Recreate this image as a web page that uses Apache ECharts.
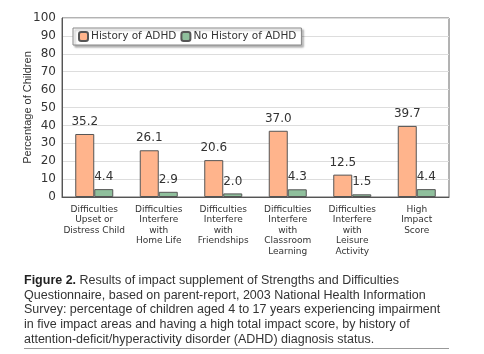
<!DOCTYPE html>
<html>
<head>
<meta charset="utf-8">
<script src="https://cdn.jsdelivr.net/npm/echarts@6/dist/echarts.min.js"></script>
<style>
  html, body { margin: 0; padding: 0; background: #fff; }
  #chart { width: 484px; height: 354px; }
</style>
</head>
<body>
<div id="chart"></div>
<script>
var categories = [
  'Difficulties\nUpset or\nDistress Child',
  'Difficulties\nInterfere\nwith\nHome Life',
  'Difficulties\nInterfere\nwith\nFriendships',
  'Difficulties\nInterfere\nwith\nClassroom\nLearning',
  'Difficulties\nInterfere\nwith\nLeisure\nActivity',
  'High\nImpact\nScore'
];
var historyADHD = [35.2, 26.1, 20.6, 37.0, 12.5, 39.7];
var noHistoryADHD = [4.4, 2.9, 2.0, 4.3, 1.5, 4.4];

var captionLines = [
  'Results of impact supplement of Strengths and Difficulties',
  'Questionnaire, based on parent-report, 2003 National Health Information',
  'Survey: percentage of children aged 4 to 17 years experiencing impairment',
  'in five impact areas and having a high total impact score, by history of',
  'attention-deficit/hyperactivity disorder (ADHD) diagnosis status.'
];

var chart = echarts.init(document.getElementById('chart'));
var font = 'DejaVu Sans';

var labelStyle = {
  show: true,
  position: 'top',
  distance: 6,
  fontFamily: font,
  fontSize: 12,
  color: '#333',
  formatter: function (p) { return p.value.toFixed(1); }
};

var option = {
  animation: false,
  textStyle: { fontFamily: font },
  grid: { left: 62, right: 35, top: 18, bottom: 157, show: true, borderColor: '#666', borderWidth: 1 },
  legend: {
    left: 73,
    top: 28,
    itemWidth: 9,
    itemHeight: 9,
    itemGap: 4,
    padding: [3, 5, 3, 5],
    backgroundColor: '#fff',
    borderColor: '#888',
    borderWidth: 1,
    shadowColor: 'rgba(0,0,0,0.3)',
    shadowOffsetX: 2,
    shadowOffsetY: 2,
    shadowBlur: 2,
    textStyle: { fontFamily: font, fontSize: 10.5, color: '#333', padding: [0, 0, 0, -2] },
    data: ['History of ADHD', 'No History of ADHD']
  },
  xAxis: {
    type: 'category',
    data: categories,
    axisTick: { show: false },
    axisLine: { lineStyle: { color: '#555' } },
    axisLabel: {
      interval: 0,
      fontFamily: font,
      fontSize: 9,
      lineHeight: 10.6,
      color: '#333',
      margin: 7
    }
  },
  yAxis: {
    type: 'value',
    min: 0,
    max: 100,
    interval: 10,
    name: 'Percentage of Children',
    nameLocation: 'middle',
    nameGap: 29,
    nameMoveOverlap: false,
    nameTextStyle: { fontFamily: 'Liberation Sans', fontSize: 11, color: '#333' },
    axisLine: { show: true, lineStyle: { color: '#555' } },
    axisTick: { show: false },
    axisLabel: { fontFamily: font, fontSize: 12, color: '#333', margin: 6 },
    splitLine: { lineStyle: { color: '#ddd' } }
  },
  series: [
    {
      name: 'History of ADHD',
      type: 'bar',
      data: historyADHD,
      barWidth: 19,
      barGap: '0%',
      itemStyle: { color: '#FFB48C', borderColor: '#555', borderWidth: 1 },
      label: labelStyle
    },
    {
      name: 'No History of ADHD',
      type: 'bar',
      data: noHistoryADHD,
      barWidth: 19,
      barGap: '0%',
      itemStyle: { color: '#8FBF9C', borderColor: '#555', borderWidth: 1 },
      label: labelStyle
    }
  ],
  graphic: [
    {
      type: 'text',
      left: 24,
      top: 273,
      style: {
        text: '{b|Figure 2.} ' + captionLines.join('\n'),
        rich: {
          b: { fontFamily: 'Liberation Sans', fontSize: 12.5, fontWeight: 'bold', fill: '#222', lineHeight: 14.8 }
        },
        font: '12.5px "Liberation Sans"',
        fill: '#333',
        lineHeight: 14.8
      }
    },
    {
      type: 'line',
      shape: { x1: 24, y1: 348.5, x2: 449, y2: 348.5 },
      style: { stroke: '#999', lineWidth: 1 }
    }
  ]
};

chart.setOption(option);
</script>
</body>
</html>
